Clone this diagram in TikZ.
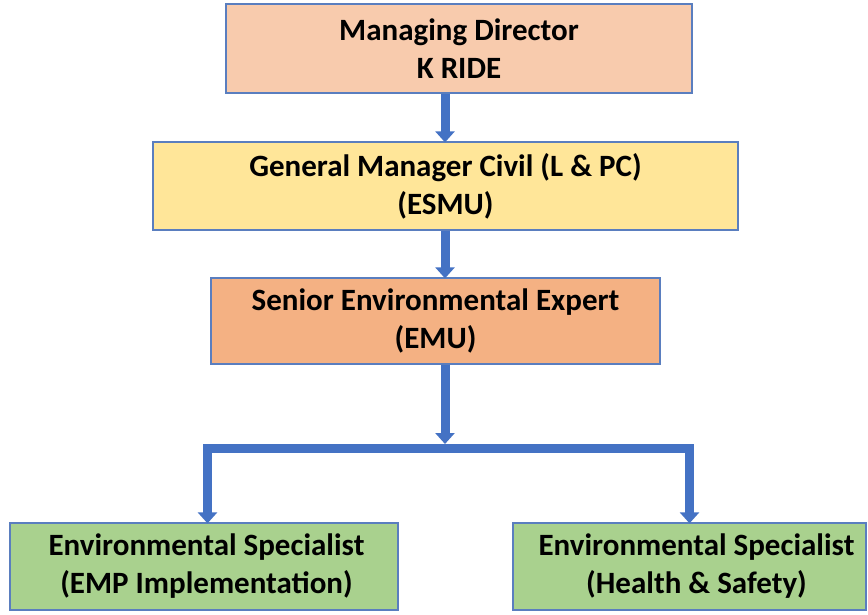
\documentclass[tikz,border=0pt]{standalone}
\usepackage{fontspec}
\setmainfont{Carlito}
\usetikzlibrary{arrows.meta}
\definecolor{bdr}{HTML}{5A7EBF}
\definecolor{arr}{HTML}{4472C4}
\definecolor{cpeach}{HTML}{F8CBAD}
\definecolor{cyel}{HTML}{FFE699}
\definecolor{corg}{HTML}{F4B183}
\definecolor{cgrn}{HTML}{A9D18E}
\begin{document}
\begin{tikzpicture}[x=1pt,y=-1pt,
  box/.style={draw=bdr,line width=1.3pt,align=center,font=\fontsize{31}{38}\selectfont\bfseries,inner sep=0pt},
  conn/.style={draw=arr,line width=9pt,-{Triangle[width=19pt,length=11pt]}}]
\useasboundingbox (0,0) rectangle (868,614);
\node[box,fill=cpeach,minimum width=466pt,minimum height=89pt] (md) at (459,48.5) {Managing Director\\K RIDE};
\node[box,fill=cyel,minimum width=585pt,minimum height=88pt] (gm) at (445.5,186) {General Manager Civil (L \& PC)\\(ESMU)};
\node[box,fill=corg,minimum width=449pt,minimum height=86pt] (se) at (435.5,321) {Senior Environmental Expert\\(EMU)};
\node[box,fill=cgrn,minimum width=388pt,minimum height=87pt] (es1) at (204,566.5) {\hspace*{5pt}Environmental Specialist\\\hspace*{5pt}(EMP Implementation)};
\node[box,fill=cgrn,minimum width=353pt,minimum height=87pt] (es2) at (689.5,566.5) {\hspace*{14pt}Environmental Specialist\\\hspace*{14pt}(Health \& Safety)};
\coordinate (j) at (445,448);
\coordinate (jt) at (445,444);
\draw[conn] (md.south -| j) -- ([yshift=-1pt]gm.north -| j);
\draw[conn] (gm.south -| j) -- ([yshift=-1pt]se.north -| j);
\draw[conn] (se.south -| j) -- (jt);
\draw[conn,line join=miter] (j) -| ([xshift=3.5pt,yshift=-1pt]es1.north);
\draw[conn,line join=miter] (j) -| ([yshift=-1pt]es2.north);
\end{tikzpicture}
\end{document}
